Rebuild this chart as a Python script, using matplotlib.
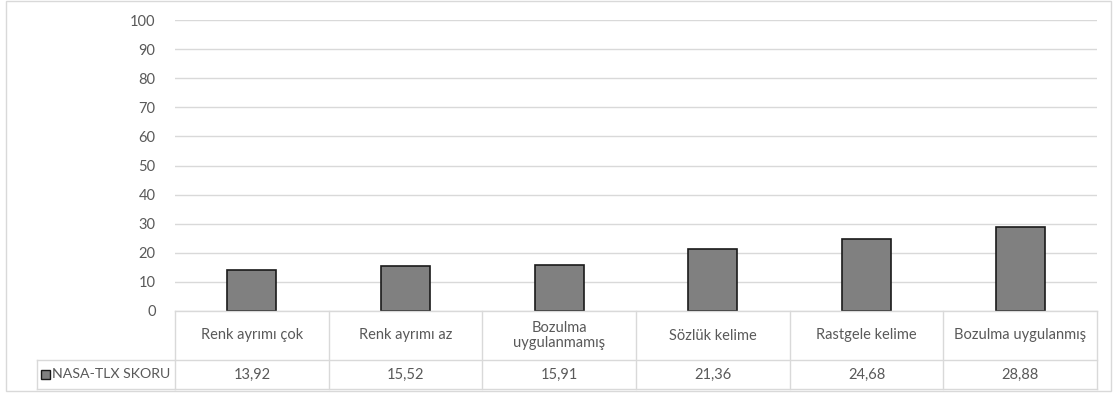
import matplotlib
matplotlib.use("Agg")
import matplotlib.pyplot as plt
from matplotlib.patches import Rectangle
from matplotlib.lines import Line2D

categories = ["Renk ayrımı çok", "Renk ayrımı az", "Bozulma\nuygulanmamış",
              "Sözlük kelime", "Rastgele kelime", "Bozulma uygulanmış"]
scores = [13.92, 15.52, 15.91, 21.36, 24.68, 28.88]
series_name = "NASA-TLX SKORU"
yticks = list(range(0, 101, 10))

W, H = 1117, 396
plt.rcParams["font.family"] = ["Lato", "DejaVu Sans"]
text_col = "#595959"
line_col = "#d9d9d9"

fig = plt.figure(figsize=(W / 100, H / 100), dpi=100)


def fx(px):
    return px / W


def fy(py):
    return 1 - py / H


# outer chart border
fig.add_artist(Rectangle((fx(6), fy(391)), fx(1111) - fx(6), fy(1) - fy(391),
                         transform=fig.transFigure, fill=False, edgecolor=line_col, lw=1))

left, right, top, bottom = 175, 1097, 20, 311
ax = fig.add_axes([fx(left), fy(bottom), fx(right) - fx(left), fy(top) - fy(bottom)])
x = list(range(len(categories)))
ax.bar(x, scores, width=0.32, color="#808080", edgecolor="#1a1a1a", linewidth=1.2, zorder=3)
ax.set_xlim(-0.5, len(categories) - 0.5)
ax.set_ylim(0, 100)
ax.set_yticks(yticks)
ax.tick_params(axis="y", length=0, pad=14, labelsize=10.5, labelcolor=text_col)
ax.set_xticks([])
ax.grid(axis="y", color=line_col, lw=1, zorder=0)
for s in ax.spines.values():
    s.set_visible(False)

# data table under the plot
row1, row2 = 360, 389
cell_w = (right - left) / len(categories)
for py in (bottom, row1, row2):
    fig.add_artist(Line2D([fx(left), fx(right)], [fy(py), fy(py)], color=line_col, lw=1))
for i in range(len(categories) + 1):
    px = left + i * cell_w
    fig.add_artist(Line2D([fx(px), fx(px)], [fy(bottom), fy(row2)], color=line_col, lw=1))
# legend cell
leg_l = 37
fig.add_artist(Line2D([fx(leg_l), fx(left)], [fy(row1), fy(row1)], color=line_col, lw=1))
fig.add_artist(Line2D([fx(leg_l), fx(left)], [fy(row2), fy(row2)], color=line_col, lw=1))
fig.add_artist(Line2D([fx(leg_l), fx(leg_l)], [fy(row1), fy(row2)], color=line_col, lw=1))
fig.add_artist(Rectangle((fx(41), fy(379)), fx(9), 9 / H, transform=fig.transFigure,
                         facecolor="#808080", edgecolor="#1a1a1a", lw=1))
fig.text(fx(52), fy((row1 + row2) / 2), series_name, ha="left", va="center",
         fontsize=10.2, color=text_col)

for i, (cat, val) in enumerate(zip(categories, scores)):
    cx = left + (i + 0.5) * cell_w
    fig.text(fx(cx), fy((bottom + row1) / 2), cat, ha="center", va="center",
             fontsize=10.5, color=text_col, linespacing=1.15)
    fig.text(fx(cx), fy((row1 + row2) / 2), f"{val:.2f}".replace(".", ","),
             ha="center", va="center", fontsize=10.5, color=text_col)

fig.savefig("out.png", dpi=100)
